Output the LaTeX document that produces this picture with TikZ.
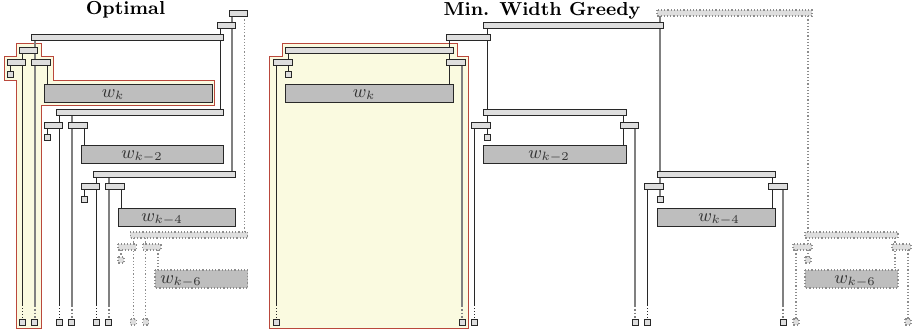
\documentclass[tikz,border=0pt]{standalone}
\usepackage{amsmath}
\usepackage{xcolor}
\usepackage{tikz}
\usetikzlibrary{positioning}
\definecolor{gtDark}{RGB}{40,40,40}
\definecolor{gtGray}{RGB}{128,128,128}
\definecolor{gtDot}{RGB}{140,140,140}
\definecolor{gtBar}{RGB}{222,222,222}
\definecolor{gtBox}{RGB}{190,190,190}
\definecolor{gtHlFill}{RGB}{250,250,224}
\definecolor{gtHlLine}{RGB}{186,72,60}

\begin{document}
\begin{tikzpicture}[x=0.5pt, y=-0.5pt,
  gbar/.style={draw=gtDark, fill=gtBar, line width=0.5pt},
  dbar/.style={draw=gtDot, fill=gtBar, densely dotted, line width=0.6pt},
  wbox/.style={draw=gtDark, fill=gtBox, line width=0.5pt},
  dwbox/.style={draw=gtDot, fill=gtBox, densely dotted, line width=0.6pt},
  wdark/.style={draw=gtDark, line width=0.5pt},
  wgray/.style={draw=gtGray, line width=0.9pt},
  wdot/.style={draw=gtDot, densely dotted, line width=0.6pt},
  hlzone/.style={draw=gtHlLine, fill=gtHlFill, line width=0.5pt},
  wlab/.style={text=black!80, font=\fontsize{9}{11}\selectfont, anchor=base, inner sep=0pt},
  ttl/.style={font=\fontsize{9.4}{11}\selectfont\bfseries, anchor=base, inner sep=0pt}]
\useasboundingbox (0,0) rectangle (912,334);

% highlighted zones
\draw[hlzone] (16,43) -- (41,43) -- (41,56) -- (53,56) -- (53,80) -- (214,80) -- (214,105)
  -- (41,105) -- (41,328) -- (16,328) -- (16,80) -- (4,80) -- (4,56) -- (16,56) -- cycle;
\draw[hlzone] (282,43) -- (457,43) -- (457,56) -- (468,56) -- (468,328) -- (269,328)
  -- (269,56) -- (282,56) -- cycle;

% titles
\node[ttl] (optTitle) at (125.5,14.5) {Optimal};
\node[ttl] (mwgTitle) at (542,15) {Min. Width Greedy};

% wires running to the bottom row: x / top / style
\foreach \x/\t/\s in {22.3/50/wdark, 34.7/37/wgray, 59.3/112/wdark, 71.7/112/wgray,
                      96.3/174/wdark, 108.7/174/wgray,
                      276/62/wdark, 462/62/wgray, 474/125/wdark, 635/125/wgray,
                      647/186/wdark, 783/186/wgray}
{
  \draw[\s] (\x,\t) -- (\x,305);
  \draw[\s, densely dotted] (\x,305) -- (\x,319);
  \draw[gbar] (\x-3,319) rectangle (\x+3,325);
}
\foreach \x/\t in {133.3/235, 145.7/235, 796/247, 908/247}
{
  \draw[wdot] (\x,\t) -- (\x,319);
  \draw[dbar] (\x-3,319) rectangle (\x+3,325);
}

% short wires: x / from / to / style
\foreach \x/\a/\b/\s in {10/62/71/wdark, 47/62/84/wdark, 47/125/134/wdark, 84/125/145/wdark,
    84/186/196/wdark, 121/186/208/wdark, 220/25/109/wdark, 232.3/13/171/wgray,
    244.7/13/232/wdot, 121/247/257/wdot, 158/247/270/wdot,
    288/50/71/wdark, 449/37/84/wdark, 487/25/134/wdark, 623/112/145/wdark,
    660/13/196/wgray, 772/174/208/wdark, 808/13/257/wdot, 895/235/270/wdot}
  \draw[\s] (\x,\a) -- (\x,\b);

% gates: left / right / top / style
\foreach \l/\r/\y/\s in {229.3/247.7/10/gbar, 217/235.3/22/gbar, 31.7/223/34/gbar,
    19.3/37.7/47/gbar, 7/25.3/59/gbar, 31.7/50/59/gbar,
    56.3/223/109/gbar, 44/62.3/122/gbar, 68.7/87/122/gbar,
    93.3/235.3/171/gbar, 81/99.3/183/gbar, 105.7/124/183/gbar,
    130.3/247.7/232/dbar, 118/136.3/244/dbar, 142.7/161/244/dbar,
    657/812/10/dbar, 483/663/22/gbar, 446/490/34/gbar, 285/453/47/gbar,
    273/292/59/gbar, 446/465/59/gbar,
    483/626/109/gbar, 471/490/122/gbar, 620/638/122/gbar,
    657/775/171/gbar, 644/663/183/gbar, 768/787/183/gbar,
    805/898/232/dbar, 793/812/244/dbar, 892/911/244/dbar}
  \draw[\s] (\l,\y) rectangle (\r,\y+6);

% early ends
\foreach \x/\y/\s in {10/71/gbar, 47/134/gbar, 84/196/gbar, 121/257/dbar,
                      288/71/gbar, 487/134/gbar, 660/196/gbar, 808/257/dbar}
  \draw[\s] (\x-3,\y) rectangle (\x+3,\y+6);

% width blocks: name / left / right / top / label x / label / style
\foreach \n/\l/\r/\t/\lx/\lbl/\s in {
    oWk/44/212/84/113/{w_k}/wbox, oWkb/81/223/145/142/{w_{k-2}}/wbox,
    oWkd/118/235.3/208/162/{w_{k-4}}/wbox, oWkf/155/247.7/270/181/{w_{k-6}}/dwbox,
    gWk/285/453/84/364/{w_k}/wbox, gWkb/483/626/145/549/{w_{k-2}}/wbox,
    gWkd/657/775/208/719/{w_{k-4}}/wbox, gWkf/805/898/270/855/{w_{k-6}}/dwbox}
{
  \draw[\s] (\l,\t) rectangle (\r,\t+18);
  \node[wlab] (\n) at (\lx,\t+13.5) {$\lbl$};
}
\end{tikzpicture}
\end{document}
